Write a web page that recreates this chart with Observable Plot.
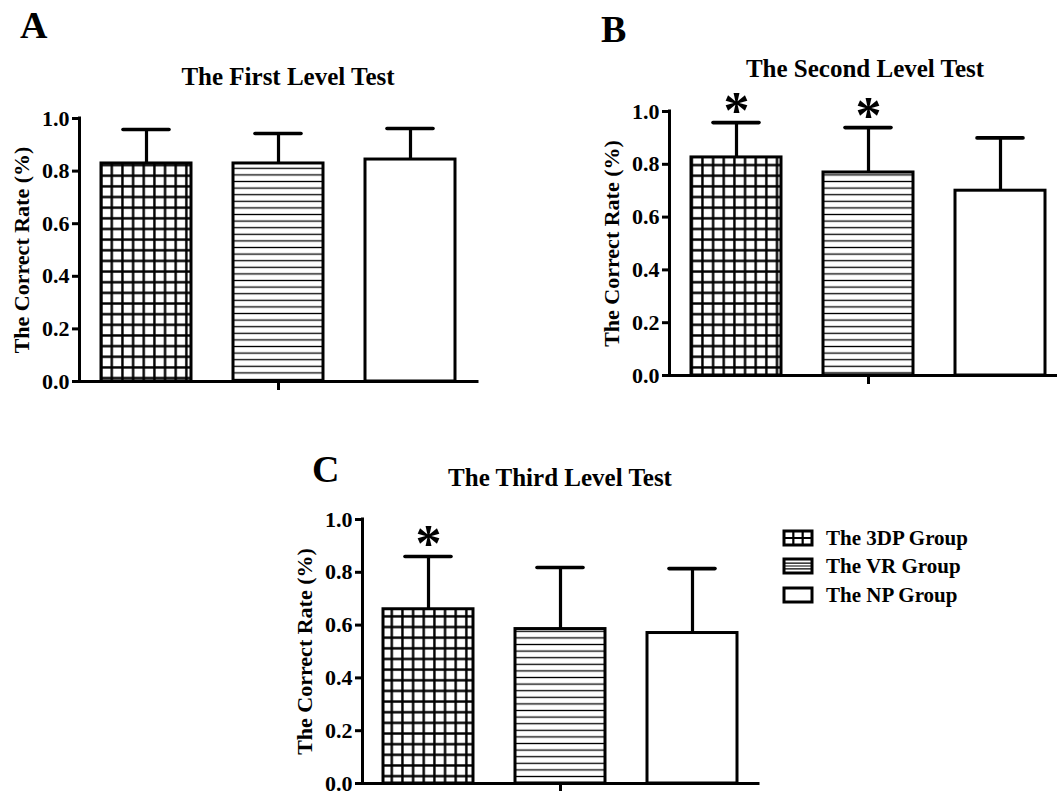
<!DOCTYPE html>
<html><head><meta charset="utf-8">
<script src="https://cdn.jsdelivr.net/npm/d3@7"></script>
<script src="https://cdn.jsdelivr.net/npm/@observablehq/plot@0.6"></script>
<style>
html,body{margin:0;padding:0;background:#fff;}
#root{position:relative;width:1057px;height:791px;overflow:hidden;background:#fff;}
#root svg{position:absolute;}
</style></head><body><div id="root"></div>
<script>
// ---- data ----
const groups = ["The 3DP Group", "The VR Group", "The NP Group"];
const panelTitles = ["The First Level Test", "The Second Level Test", "The Third Level Test"];
const panelLetters = ["A", "B", "C"];
const yLabel = "The Correct Rate (%)";
const yTicks = [0, 0.2, 0.4, 0.6, 0.8, 1.0];

const meanFirst = [0.829, 0.829, 0.844];
const sdFirst = [0.129, 0.114, 0.118];
const sigFirst = [false, false, false];

const meanSecond = [0.826, 0.769, 0.700];
const sdSecond = [0.132, 0.170, 0.200];
const sigSecond = [true, true, false];

const meanThird = [0.660, 0.585, 0.570];
const sdThird = [0.200, 0.233, 0.244];
const sigThird = [true, false, false];

// ---- styles / layout ----
const FONT = "'Liberation Serif','Times New Roman',serif";
const groupFills = ["url(#grid)", "url(#stripes)", "#fff"];
const layouts = [
  {left: 0, top: 0, width: 500, height: 400, mL: 79, mR: 23, mT: 118, mB: 19},
  {left: 580, top: 0, width: 490, height: 400, mL: 89, mR: 3, mT: 111, mB: 25},
  {left: 280, top: 430, width: 500, height: 361, mL: 82, mR: 22, mT: 89, mB: 8}
];

const root = document.getElementById("root");
const NS = "http://www.w3.org/2000/svg";

// overlay svg: pattern defs, panel letters, titles, legend
const ov = document.createElementNS(NS, "svg");
ov.setAttribute("width", 1057); ov.setAttribute("height", 791);
ov.style.left = "0px"; ov.style.top = "0px";
ov.innerHTML = `
<defs>
  <pattern id="grid" patternUnits="userSpaceOnUse" width="10.65" height="10.65">
    <rect width="10.65" height="10.65" fill="#fff"/>
    <path d="M5.3 0V10.65M0 5.3H10.65" stroke="#000" stroke-width="2.4"/>
  </pattern>
  <pattern id="stripes" patternUnits="userSpaceOnUse" width="8" height="6.6">
    <rect width="8" height="6.6" fill="#fff"/>
    <path d="M0 3.3H8" stroke="#000" stroke-width="1.3"/>
  </pattern>
</defs>`;
root.appendChild(ov);

function txt(parent, s, x, y, size, anchor) {
  const t = document.createElementNS(NS, "text");
  t.setAttribute("x", x); t.setAttribute("y", y);
  t.setAttribute("font-family", FONT); t.setAttribute("font-weight", "bold");
  t.setAttribute("font-size", size); t.setAttribute("fill", "#000");
  t.setAttribute("text-anchor", anchor || "start");
  t.textContent = s;
  parent.appendChild(t);
  return t;
}

const letterPos = [[20, 38], [601, 42], [312, 482]];
const titlePos = [[288, 85], [865, 77], [560, 486]];
panelLetters.forEach((L, i) => txt(ov, L, letterPos[i][0], letterPos[i][1], 38));
panelTitles.forEach((T, i) => txt(ov, T, titlePos[i][0], titlePos[i][1], 25, "middle"));

// legend
const legY = [531, 559, 588];
groups.forEach((g, i) => {
  const x = 784, y = legY[i], w = 28, h = 14;
  let inner = "";
  if (i === 0) inner = `<path d="M${x + w/3} ${y}V${y + h}M${x + 2*w/3} ${y}V${y + h}M${x} ${y + h/2}H${x + w}" stroke="#000" stroke-width="2.2"/>`;
  if (i === 1) inner = `<path d="M${x} ${y + h*0.3}H${x + w}M${x} ${y + h*0.5}H${x + w}M${x} ${y + h*0.7}H${x + w}" stroke="#000" stroke-width="1.2"/>`;
  const gEl = document.createElementNS(NS, "g");
  gEl.innerHTML = `<rect x="${x}" y="${y}" width="${w}" height="${h}" fill="#fff"/>${inner}<rect x="${x}" y="${y}" width="${w}" height="${h}" fill="none" stroke="#000" stroke-width="3"/>`;
  ov.appendChild(gEl);
  txt(ov, g, 826, y + 13.5, 21);
});

// ---- panels ----
function panel(means, sds, sigs, L) {
  const rows = groups.map((g, i) => ({group: g, mean: means[i], top: means[i] + sds[i], sig: sigs[i]}));
  const innerW = L.width - L.mL - L.mR;
  const svg = Plot.plot({
    width: L.width, height: L.height,
    marginLeft: L.mL, marginRight: L.mR, marginTop: L.mT, marginBottom: L.mB,
    style: {fontFamily: FONT, fontSize: "22px", fontWeight: "bold", color: "#000", background: "transparent", overflow: "visible"},
    x: {domain: groups, paddingInner: 0.32, paddingOuter: 0.16, axis: null},
    y: {domain: [0, 1], axis: null},
    marks: [
      ...groups.map((g, i) => Plot.barY(rows.filter(d => d.group === g), {x: "group", y: "mean", fill: groupFills[i], stroke: "#000", strokeWidth: 3})),
      Plot.ruleX(rows, {x: "group", y1: "mean", y2: "top", stroke: "#000", strokeWidth: 3.2}),
      Plot.tickY(rows, {x: "group", y: "top", insetLeft: 22, insetRight: 22, stroke: "#000", strokeWidth: 3.6, strokeLinecap: "round"}),
      Plot.ruleX([0], {x: null, y1: 0, y2: 1, dx: -innerW / 2, stroke: "#000", strokeWidth: 3, strokeLinecap: "square"}),
      Plot.ruleY([0], {stroke: "#000", strokeWidth: 3, strokeLinecap: "square"}),
      Plot.axisY({ticks: yTicks, tickFormat: d3.format(".1f"), tickSize: 7, tickPadding: 3, strokeWidth: 3, label: null, fontSize: 22}),
      Plot.axisX({ticks: [groups[1]], tickFormat: () => "", tickSize: 9, strokeWidth: 3, label: null}),
      Plot.text([yLabel], {frameAnchor: "left", rotate: -90, dx: -66, lineAnchor: "top", textAnchor: "middle", fontSize: 22}),
      Plot.text(rows.filter(d => d.sig), {x: "group", y: "top", text: () => "*", fontSize: 52, lineAnchor: "bottom", dy: 5})
    ]
  });
  svg.style.left = L.left + "px";
  svg.style.top = L.top + "px";
  root.appendChild(svg);
}

panel(meanFirst, sdFirst, sigFirst, layouts[0]);
panel(meanSecond, sdSecond, sigSecond, layouts[1]);
panel(meanThird, sdThird, sigThird, layouts[2]);
</script>
</body></html>
